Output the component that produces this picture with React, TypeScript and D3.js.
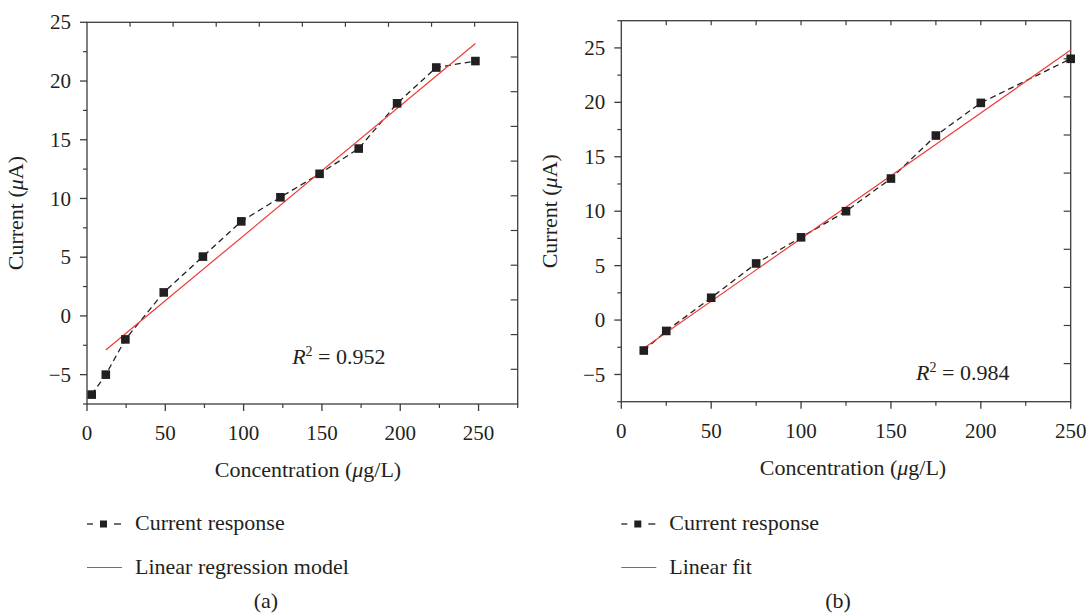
import React from "react";
import * as d3 from "d3";

// panel (a)
const concA = [3, 12, 24.5, 49, 74, 98.5, 123.5, 148.5, 173.5, 198, 223, 248];
const currentA = [-6.7, -5.0, -2.0, 2.0, 5.05, 8.05, 10.1, 12.1, 14.25, 18.1, 21.15, 21.7];
const fitAx = [12, 248];
const fitAy = [-2.9, 23.2];

// panel (b)
const concB = [12.5, 25, 50, 75, 100, 125, 150, 175, 200, 250];
const currentB = [-2.8, -1.0, 2.05, 5.2, 7.6, 10.0, 13.0, 16.95, 19.95, 24.0];
const fitBx = [12.5, 250];
const fitBy = [-2.6, 24.8];

const xTicks = [0, 50, 100, 150, 200, 250];
const yTicks = [-5, 0, 5, 10, 15, 20, 25];

const FONT = "'Liberation Serif', 'DejaVu Serif', serif";
const INK = "#231f20";
const AXIS = "#3c3c3c";
const RED = "#ee3b34";

type PanelProps = {
  left: number;
  right: number;
  top: number;
  bottom: number;
  xDomain: [number, number];
  yDomain: [number, number];
  xs: number[];
  ys: number[];
  fitX: number[];
  fitY: number[];
  r2: string;
  r2At: [number, number];
  rightDivs: number;
  xTitleX: number;
  fitLabel: string;
  tag: string;
  tagX: number;
};

const Panel = (p: PanelProps) => {
  const x = d3.scaleLinear().domain(p.xDomain).range([p.left, p.right]);
  const y = d3.scaleLinear().domain(p.yDomain).range([p.bottom, p.top]);

  const xMinor = d3.range(25, p.xDomain[1] + 0.01, 50);
  const yMinor = d3.range(p.yDomain[0], p.yDomain[1] + 0.01, 5);
  const yVis = yTicks.filter((t) => t >= p.yDomain[0] && t <= p.yDomain[1]);

  const pts = p.xs.map((v, i) => [x(v), y(p.ys[i])] as [number, number]);
  const line = d3.line();
  const fit = p.fitX.map((v, i) => [x(v), y(p.fitY[i])] as [number, number]);

  const w = p.right - p.left;
  const h = p.bottom - p.top;
  const topTicks = d3.range(1, 10).map((i) => p.left + (w * i) / 10);
  const rightTicks = d3.range(1, p.rightDivs).map((i) => p.top + (h * i) / p.rightDivs);

  const plotMid = (p.top + p.bottom) / 2;
  const legX = p.left;

  return (
    <g>
      {/* frame */}
      <rect x={p.left} y={p.top} width={w} height={h} fill="none" stroke={AXIS} strokeWidth={1.3} />

      {/* bottom axis */}
      {xTicks.map((t) => (
        <g key={"xt" + t}>
          <line x1={x(t)} x2={x(t)} y1={p.bottom} y2={p.bottom + 7} stroke={AXIS} strokeWidth={1.3} />
          <text x={x(t)} y={p.bottom + 36} textAnchor="middle" fontSize={21} fill={INK}>
            {t}
          </text>
        </g>
      ))}
      {xMinor.map((t) => (
        <line key={"xm" + t} x1={x(t)} x2={x(t)} y1={p.bottom} y2={p.bottom + 4} stroke={AXIS} strokeWidth={1.2} />
      ))}

      {/* left axis */}
      {yVis.map((t) => (
        <g key={"yt" + t}>
          <line x1={p.left - 7} x2={p.left} y1={y(t)} y2={y(t)} stroke={AXIS} strokeWidth={1.3} />
          <text x={p.left - 16} y={y(t)} dy="0.34em" textAnchor="end" fontSize={21} fill={INK}>
            {t < 0 ? "\u2212" + Math.abs(t) : t}
          </text>
        </g>
      ))}
      {yMinor.map((t) => (
        <line key={"ym" + t} x1={p.left - 4} x2={p.left} y1={y(t)} y2={y(t)} stroke={AXIS} strokeWidth={1.2} />
      ))}

      {/* opposite axes, own tick spacing */}
      {topTicks.map((tx, i) => (
        <line key={"tt" + i} x1={tx} x2={tx} y1={p.top} y2={p.top + 4.5} stroke={AXIS} strokeWidth={1.2} />
      ))}
      {rightTicks.map((ty, i) => (
        <line key={"rt" + i} x1={p.right - 7} x2={p.right} y1={ty} y2={ty} stroke={AXIS} strokeWidth={1.2} />
      ))}

      {/* data */}
      <path d={line(pts) || ""} fill="none" stroke={INK} strokeWidth={1.3} strokeDasharray="6,4" />
      <path d={line(fit) || ""} fill="none" stroke={RED} strokeWidth={1.2} />
      {pts.map(([px, py], i) => (
        <rect key={"pt" + i} x={px - 4.3} y={py - 4.3} width={8.6} height={8.6} fill={INK} />
      ))}

      {/* R^2 */}
      <text x={x(p.r2At[0])} y={y(p.r2At[1])} fontSize={22} fill={INK}>
        <tspan fontStyle="italic">R</tspan>
        <tspan dy={-8} fontSize={14}>2</tspan>
        <tspan dy={8}>{" = " + p.r2}</tspan>
      </text>

      {/* axis titles */}
      <text
        transform={`translate(${p.left - 64},${plotMid}) rotate(-90)`}
        textAnchor="middle"
        fontSize={22}
        fill={INK}
      >
        Current (<tspan fontStyle="italic">μ</tspan>A)
      </text>
      <text x={p.xTitleX} y={p.bottom + 73} textAnchor="middle" fontSize={22} fill={INK}>
        Concentration (<tspan fontStyle="italic">μ</tspan>g/L)
      </text>

      {/* legend */}
      <line x1={legX} x2={legX + 6} y1={524} y2={524} stroke={INK} strokeWidth={1.3} />
      <rect x={legX + 13} y={520.5} width={7} height={7} fill={INK} />
      <line x1={legX + 27} x2={legX + 34} y1={524} y2={524} stroke={INK} strokeWidth={1.3} />
      <text x={legX + 48} y={530} fontSize={22} fill={INK}>
        Current response
      </text>
      <line x1={legX} x2={legX + 35} y1={567.5} y2={567.5} stroke={RED} strokeWidth={1.2} />
      <text x={legX + 48} y={574} fontSize={22} fill={INK}>
        {p.fitLabel}
      </text>

      <text x={p.tagX} y={608} textAnchor="middle" fontSize={22} fill={INK}>
        {p.tag}
      </text>
    </g>
  );
};

export default function App() {
  return (
    <svg
      width={1088}
      height={614}
      style={{ position: "absolute", left: 0, top: 0, background: "#fff" }}
      fontFamily={FONT}
    >
      <Panel
        left={87}
        right={517.7}
        top={22.3}
        bottom={404}
        xDomain={[0, 275]}
        yDomain={[-7.5, 25]}
        xs={concA}
        ys={currentA}
        fitX={fitAx}
        fitY={fitAy}
        r2="0.952"
        r2At={[131, -4.1]}
        rightDivs={11}
        xTitleX={308}
        fitLabel="Linear regression model"
        tag="(a)"
        tagX={266}
      />
      <Panel
        left={621.3}
        right={1070.7}
        top={20.7}
        bottom={401.7}
        xDomain={[0, 250]}
        yDomain={[-7.5, 27.5]}
        xs={concB}
        ys={currentB}
        fitX={fitBx}
        fitY={fitBy}
        r2="0.984"
        r2At={[164, -5.5]}
        rightDivs={10}
        xTitleX={853}
        fitLabel="Linear fit"
        tag="(b)"
        tagX={838}
      />
    </svg>
  );
}
